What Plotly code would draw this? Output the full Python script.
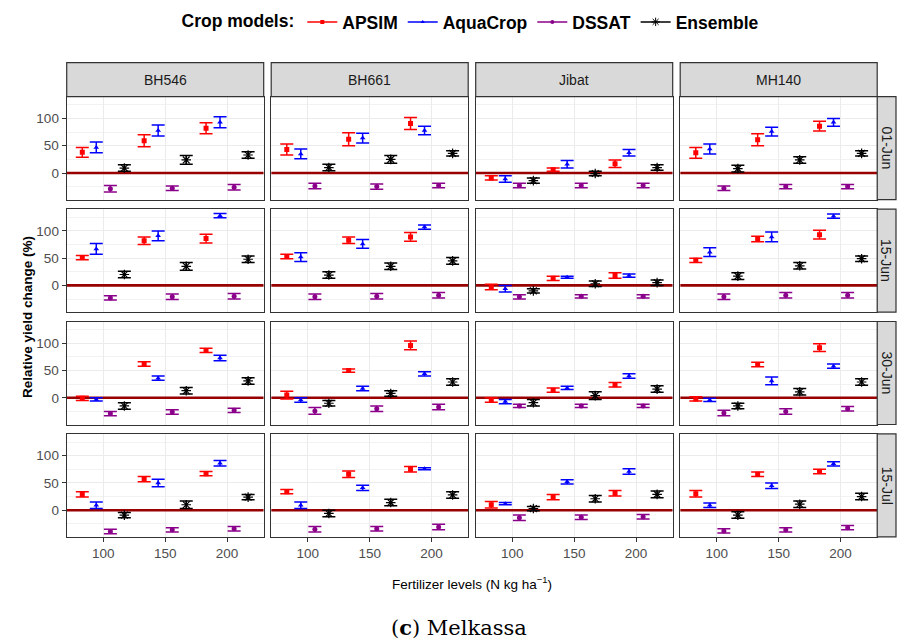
import plotly.graph_objects as go

# ---------------- data ----------------
fert_levels = [100, 150, 200]
cultivars = ["BH546", "BH661", "Jibat", "MH140"]
sowing_dates = ["01-Jun", "15-Jun", "30-Jun", "15-Jul"]
models = ["APSIM", "AquaCrop", "DSSAT", "Ensemble"]

# values indexed [sowing date][cultivar][fertilizer level]
apsim_mean = [
    [[38, 59, 82], [43, 62, 91], [-9, 6, 17], [37, 61, 86]],
    [[51, 82, 86], [53, 83, 89], [-3, 13, 18], [46, 85, 93]],
    [[-1, 62, 87], [5, 50, 96], [-4, 14, 24], [-2, 61, 92]],
    [[29, 57, 67], [34, 66, 75], [10, 24, 31], [30, 66, 71]],
]
apsim_err = [
    [[9, 11, 10], [10, 12, 11], [4, 3, 7], [10, 11, 9]],
    [[4, 7, 8], [4, 6, 8], [5, 4, 5], [4, 5, 8]],
    [[4, 4, 4], [7, 3, 8], [4, 4, 4], [4, 4, 7]],
    [[5, 5, 4], [4, 6, 5], [6, 5, 5], [6, 4, 4]],
]
aquacrop_mean = [
    [[47, 78, 93], [35, 64, 78], [-11, 16, 37], [44, 76, 93]],
    [[67, 91, 128], [52, 76, 107], [-6, 15, 18], [61, 89, 127]],
    [[-3, 36, 73], [-4, 17, 44], [-7, 18, 40], [-4, 31, 58]],
    [[9, 50, 86], [9, 41, 76], [12, 52, 71], [9, 45, 85]],
]
aquacrop_err = [
    [[10, 10, 10], [9, 9, 8], [6, 7, 6], [9, 8, 7]],
    [[10, 9, 4], [8, 8, 4], [6, 2, 3], [8, 9, 4]],
    [[3, 4, 5], [4, 4, 4], [4, 3, 4], [3, 7, 4]],
    [[6, 7, 5], [6, 5, 2], [2, 4, 5], [4, 5, 4]],
]
dssat_mean = [
    [[-29, -28, -26], [-24, -25, -23], [-23, -23, -23], [-28, -25, -25]],
    [[-23, -21, -20], [-21, -20, -18], [-21, -20, -20], [-21, -18, -18]],
    [[-29, -26, -23], [-24, -20, -17], [-15, -15, -15], [-28, -25, -20]],
    [[-39, -36, -34], [-35, -34, -31], [-14, -13, -12], [-38, -36, -32]],
]
dssat_err = [
    [[6, 4, 5], [5, 5, 4], [4, 4, 4], [4, 4, 4]],
    [[4, 5, 5], [5, 5, 5], [4, 3, 3], [5, 5, 5]],
    [[4, 4, 4], [6, 5, 5], [3, 3, 3], [5, 5, 4]],
    [[4, 4, 4], [5, 4, 5], [5, 4, 4], [4, 4, 4]],
]
ensemble_mean = [
    [[9, 24, 33], [10, 25, 36], [-14, -1, 10], [8, 24, 36]],
    [[20, 35, 48], [19, 35, 45], [-10, 3, 5], [17, 36, 49]],
    [[-15, 13, 31], [-10, 8, 29], [-9, 4, 16], [-15, 11, 29]],
    [[-9, 10, 24], [-6, 14, 28], [3, 21, 29], [-9, 11, 25]],
]
ensemble_err = [
    [[6, 8, 6], [6, 7, 5], [5, 4, 5], [6, 6, 5]],
    [[6, 7, 6], [6, 6, 6], [4, 5, 5], [6, 6, 5]],
    [[6, 6, 6], [5, 5, 6], [6, 7, 6], [5, 6, 6]],
    [[5, 7, 5], [6, 6, 6], [4, 6, 6], [6, 6, 6]],
]
y_ticks = [0, 50, 100]
reference_level = 0

# ---------------- styling / layout ----------------
model_means = {"APSIM": apsim_mean, "AquaCrop": aquacrop_mean,
               "DSSAT": dssat_mean, "Ensemble": ensemble_mean}
model_errs = {"APSIM": apsim_err, "AquaCrop": aquacrop_err,
              "DSSAT": dssat_err, "Ensemble": ensemble_err}
colors = {"APSIM": "#FF0000", "AquaCrop": "#0000FF",
          "DSSAT": "#8B008B", "Ensemble": "#000000"}
symbols = {"APSIM": "square", "AquaCrop": "triangle-up",
           "DSSAT": "circle", "Ensemble": "asterisk-open"}
msize = {"APSIM": 5, "AquaCrop": 5, "DSSAT": 5, "Ensemble": 8}
dodge = {"APSIM": -17.0, "AquaCrop": -5.7, "DSSAT": 5.7, "Ensemble": 17.0}

W, H = 902, 641
FONT = "Liberation Sans, Arial, sans-serif"
col_left = [66.7 + i * 204.5 for i in range(4)]
panel_w = 197.0
row_top = [96.7 + i * 112.4 for i in range(4)]
panel_h = 103.0
x_range = [70.4, 229.6]
y_range = [-49, 140]


def fx(px):
    return px / W


def fy(py):
    return 1 - py / H


fig = go.Figure()
layout = dict(
    width=W, height=H,
    margin=dict(l=0, r=0, t=0, b=0, pad=0, autoexpand=False),
    paper_bgcolor="white", plot_bgcolor="white",
    font=dict(family=FONT, color="#1A1A1A"),
    showlegend=True,
)
shapes = []
annotations = []

for r in range(4):
    for c in range(4):
        k = r * 4 + c + 1
        xa = "x" if k == 1 else f"x{k}"
        ya = "y" if k == 1 else f"y{k}"
        xname = "xaxis" if k == 1 else f"xaxis{k}"
        yname = "yaxis" if k == 1 else f"yaxis{k}"
        bottom = (r == 3)
        left = (c == 0)
        layout[xname] = dict(
            domain=[fx(col_left[c]), fx(col_left[c] + panel_w)],
            anchor=ya, range=x_range, tickvals=fert_levels,
            showticklabels=bottom, ticks="outside" if bottom else "",
            ticklen=4, tickcolor="#333333", automargin=False,
            tickfont=dict(size=13.5, color="#4D4D4D", family=FONT),
            showgrid=True, gridcolor="#EBEBEB", gridwidth=1.1,
            zeroline=False, showline=True, mirror=True,
            linecolor="#333333", linewidth=1.2, fixedrange=True,
        )
        layout[yname] = dict(
            domain=[fy(row_top[r] + panel_h), fy(row_top[r])],
            anchor=xa, range=y_range, tickvals=y_ticks,
            showticklabels=left, ticks="outside" if left else "",
            ticklen=4, tickcolor="#333333", automargin=False,
            tickfont=dict(size=13.5, color="#4D4D4D", family=FONT),
            showgrid=True, gridcolor="#EBEBEB", gridwidth=1.1,
            minor=dict(tickvals=[-25, 25, 75, 125], showgrid=True,
                       gridcolor="#F2F2F2", gridwidth=0.6, ticks=""),
            zeroline=False, showline=True, mirror=True,
            linecolor="#333333", linewidth=1.2, fixedrange=True,
        )
        # reference line at zero (spans the full axis range)
        fig.add_trace(go.Scatter(
            x=x_range, y=[reference_level, reference_level], mode="lines",
            xaxis=xa, yaxis=ya, showlegend=False, hoverinfo="skip",
            line=dict(color="#990000", width=2.6),
        ))
        for m in models:
            fig.add_trace(go.Scatter(
                x=[f + dodge[m] for f in fert_levels],
                y=model_means[m][r][c],
                mode="markers", xaxis=xa, yaxis=ya, showlegend=False,
                marker=dict(symbol=symbols[m], size=msize[m], color=colors[m],
                            line=dict(color=colors[m], width=1.2 if m == "Ensemble" else 0)),
                error_y=dict(type="data", array=model_errs[m][r][c], visible=True,
                             color=colors[m], thickness=1.5, width=6.5),
                hoverinfo="skip",
            ))

# top strips
for c in range(4):
    shapes.append(dict(type="rect", xref="paper", yref="paper",
                       x0=fx(col_left[c]), x1=fx(col_left[c] + panel_w),
                       y0=fy(row_top[0]), y1=fy(62.7),
                       fillcolor="#D9D9D9", line=dict(color="#333333", width=1.2),
                       layer="above"))
    annotations.append(dict(text=cultivars[c], xref="paper", yref="paper",
                            x=fx(col_left[c] + panel_w / 2), y=fy(79.5),
                            xanchor="center", yanchor="middle",
                            showarrow=False, font=dict(size=14, color="#1A1A1A", family=FONT)))
# right strips
strip_l = col_left[3] + panel_w
for r in range(4):
    shapes.append(dict(type="rect", xref="paper", yref="paper",
                       x0=fx(strip_l), x1=fx(896),
                       y0=fy(row_top[r] + panel_h), y1=fy(row_top[r]),
                       fillcolor="#D9D9D9", line=dict(color="#333333", width=1.2),
                       layer="above"))
    annotations.append(dict(text=sowing_dates[r], xref="paper", yref="paper",
                            x=fx((strip_l + 896) / 2), y=fy(row_top[r] + panel_h / 2),
                            xanchor="center", yanchor="middle",
                            textangle=90, showarrow=False,
                            font=dict(size=14, color="#1A1A1A", family=FONT)))

# axis titles
annotations.append(dict(text="<b>Relative yield change (%)</b>", xref="paper", yref="paper",
                        x=fx(27), y=fy(317), xanchor="center", yanchor="middle",
                        textangle=-90, showarrow=False,
                        font=dict(size=13.5, color="#000000", family=FONT)))
annotations.append(dict(text="Fertilizer levels (N kg ha<sup>−1</sup>)", xref="paper", yref="paper",
                        x=fx(472), y=fy(583), xanchor="center", yanchor="middle",
                        showarrow=False,
                        font=dict(size=13.5, color="#000000", family=FONT)))
annotations.append(dict(text="(<b>c</b>) Melkassa", xref="paper", yref="paper",
                        x=fx(459), y=fy(627), xanchor="center", yanchor="middle",
                        showarrow=False,
                        font=dict(size=21, color="#000000", family="DejaVu Serif, serif")))

# legend entries
for m in models:
    fig.add_trace(go.Scatter(
        x=[None], y=[None], mode="lines+markers", name=f"<b>{m}</b>",
        line=dict(color=colors[m], width=1.5),
        marker=dict(symbol=symbols[m], size=msize[m] - 1, color=colors[m],
                    line=dict(color=colors[m], width=1 if m == "Ensemble" else 0)),
        showlegend=True,
    ))

layout["legend"] = dict(
    orientation="h", x=fx(472), xanchor="center", y=fy(22), yanchor="middle",
    title=dict(text="<b>Crop models:</b>", side="left",
               font=dict(size=17.5, color="#000000", family=FONT)),
    font=dict(size=17.5, color="#000000", family=FONT),
    bgcolor="rgba(0,0,0,0)", itemwidth=30,
)
layout["shapes"] = shapes
layout["annotations"] = annotations
fig.update_layout(**layout)
fig.write_html(
    "out.html",
    config={"displayModeBar": False},
    post_script="document.body.style.margin='0px';document.body.style.padding='0px';"
                "document.body.style.overflow='hidden';",
)
